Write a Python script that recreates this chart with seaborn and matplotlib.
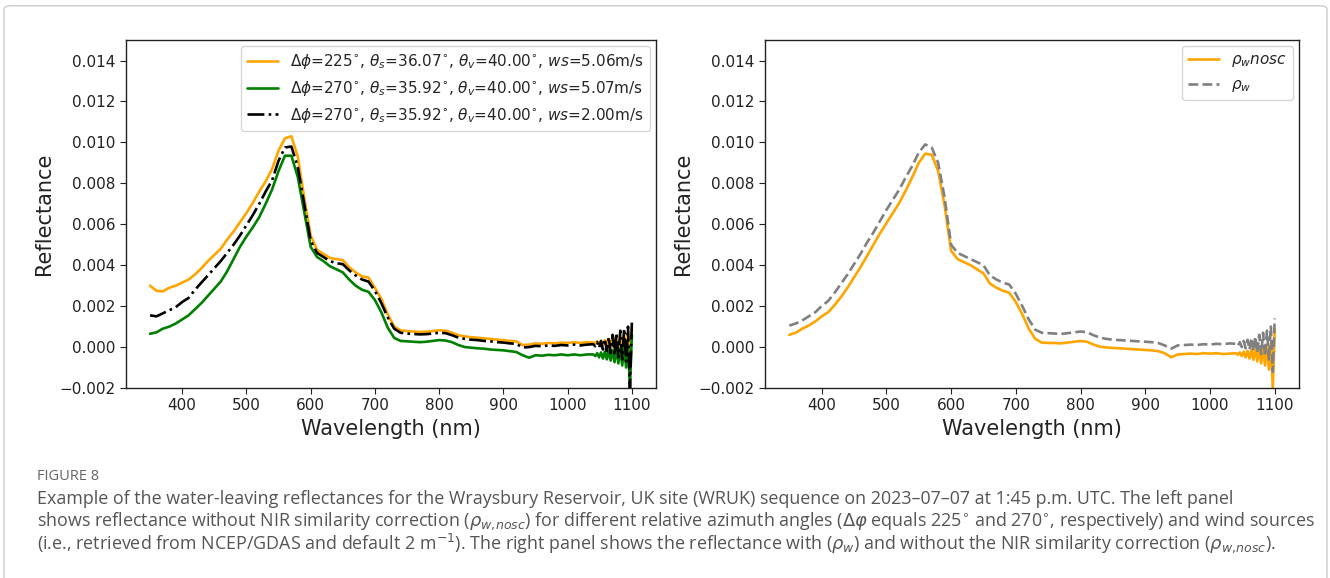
import matplotlib
matplotlib.use("Agg")
import matplotlib.pyplot as plt
import matplotlib.patches as mpatches
import seaborn as sns
import pandas as pd

# Wavelength grid (nm): 10 nm steps, then a finer grid for the noisy NIR tail
wavelength = list(range(350, 1040, 10)) + list(range(1040, 1101, 3))

# Left panel: rho_w,nosc for different azimuths / wind sources
refl_225_ws506 = [
    .00300, .00275, .00272, .00290, .00300, .00315, .00330, .00355, .00385, .00420,
    .00450, .00480, .00525, .00565, .00610, .00655, .00705, .00760, .00810, .00870,
    .00960, .01020, .01030, .00930, .00730, .00545, .00475, .00455, .00435, .00430,
    .00425, .00390, .00365, .00345, .00340, .00290, .00235, .00160, .00100, .00082,
    .00078, .00076, .00074, .00075, .00078, .00082, .00080, .00070, .00058, .00052,
    .00048, .00046, .00042, .00040, .00036, .00034, .00030, .00028, .00010, .00012,
    .00018, .00016, .00020, .00018, .00022, .00020, .00024, .00020, .00024,
    .00022, .00018, .00028, .00014, .00030, .00010, .00034, .00006, .00040, .00000,
    .00044, -.00006, .00050, -.00010, .00056, -.00016, .00060, -.00020, .00070, -.00030,
    .00090]
refl_270_ws507 = [
    .00065, .00072, .00090, .00100, .00115, .00135, .00155, .00185, .00215, .00250,
    .00285, .00320, .00370, .00430, .00490, .00540, .00585, .00635, .00700, .00770,
    .00860, .00935, .00935, .00830, .00660, .00490, .00440, .00420, .00395, .00380,
    .00365, .00330, .00300, .00280, .00270, .00230, .00170, .00095, .00045, .00030,
    .00028, .00026, .00024, .00026, .00030, .00034, .00032, .00024, .00010, .00000,
    -.00003, -.00006, -.00008, -.00012, -.00014, -.00016, -.00020, -.00024, -.00040, -.00052,
    -.00040, -.00042, -.00038, -.00040, -.00036, -.00040, -.00036, -.00040, -.00036,
    -.00036, -.00044, -.00030, -.00050, -.00026, -.00056, -.00022, -.00060, -.00018, -.00066,
    -.00014, -.00074, -.00010, -.00080, -.00006, -.00090, .00000, -.00100, .00010, -.00200,
    .00060]
refl_270_ws200 = [
    .00155, .00150, .00165, .00180, .00195, .00220, .00240, .00280, .00315, .00350,
    .00385, .00420, .00460, .00500, .00545, .00595, .00645, .00700, .00760, .00815,
    .00910, .00975, .00980, .00880, .00700, .00520, .00460, .00440, .00420, .00410,
    .00405, .00375, .00350, .00330, .00320, .00275, .00215, .00145, .00090, .00070,
    .00066, .00064, .00062, .00063, .00066, .00070, .00068, .00058, .00046, .00040,
    .00036, .00034, .00030, .00028, .00024, .00022, .00018, .00016, -.00002, .00000,
    .00006, .00004, .00008, .00006, .00010, .00008, .00012, .00008, .00012,
    .00014, .00004, .00024, -.00004, .00030, -.00012, .00040, -.00020, .00050, -.00030,
    .00060, -.00040, .00070, -.00050, .00080, -.00060, .00090, -.00070, .00100, -.00200,
    .00120]

# Right panel: without (nosc) and with NIR similarity correction
rho_w_nosc = [
    .00060, .00070, .00090, .00105, .00125, .00150, .00170, .00205, .00245, .00290,
    .00340, .00390, .00445, .00500, .00555, .00605, .00655, .00705, .00765, .00830,
    .00900, .00945, .00940, .00860, .00690, .00470, .00430, .00415, .00400, .00380,
    .00360, .00310, .00290, .00275, .00265, .00220, .00160, .00090, .00040, .00022,
    .00020, .00020, .00018, .00022, .00026, .00030, .00026, .00012, .00002, -.00002,
    -.00004, -.00006, -.00008, -.00010, -.00012, -.00014, -.00016, -.00020, -.00030, -.00050,
    -.00036, -.00034, -.00032, -.00034, -.00030, -.00032, -.00030, -.00034, -.00032,
    -.00030, -.00038, -.00026, -.00044, -.00022, -.00050, -.00018, -.00056, -.00014, -.00062,
    -.00010, -.00070, -.00004, -.00080, .00000, -.00090, .00010, -.00110, .00020, -.00200,
    .00090]
rho_w = [
    .00105, .00115, .00130, .00150, .00170, .00200, .00225, .00265, .00310, .00355,
    .00405, .00455, .00510, .00560, .00615, .00670, .00720, .00770, .00830, .00885,
    .00950, .00990, .00975, .00900, .00730, .00500, .00460, .00445, .00430, .00415,
    .00400, .00350, .00330, .00315, .00305, .00260, .00200, .00135, .00085, .00070,
    .00068, .00066, .00064, .00068, .00072, .00076, .00072, .00058, .00046, .00040,
    .00036, .00034, .00032, .00030, .00028, .00026, .00024, .00020, .00008, -.00008,
    .00008, .00010, .00012, .00010, .00014, .00012, .00016, .00014, .00018,
    .00016, .00006, .00024, .00000, .00030, -.00006, .00036, -.00012, .00044, -.00020,
    .00052, -.00026, .00060, -.00034, .00070, -.00044, .00080, -.00060, .00100, -.00120,
    .00140]

left_labels = [
    r'$\Delta\phi$=225$^{\circ}$, $\theta_s$=36.07$^{\circ}$, $\theta_v$=40.00$^{\circ}$, $ws$=5.06m/s',
    r'$\Delta\phi$=270$^{\circ}$, $\theta_s$=35.92$^{\circ}$, $\theta_v$=40.00$^{\circ}$, $ws$=5.07m/s',
    r'$\Delta\phi$=270$^{\circ}$, $\theta_s$=35.92$^{\circ}$, $\theta_v$=40.00$^{\circ}$, $ws$=2.00m/s',
]
right_labels = [r'$\rho_w nosc$', r'$\rho_w$']

caption_head = 'FIGURE 8'
caption_lines = [
    'Example of the water-leaving reflectances for the Wraysbury Reservoir, UK site (WRUK) sequence on 2023\u201307\u201307 at 1:45 p.m. UTC. The left panel',
    r'shows reflectance without NIR similarity correction ($\rho_{w,\!nosc}$) for different relative azimuth angles ($\Delta\varphi$ equals 225$^{\circ}$ and 270$^{\circ}$, respectively) and wind sources',
    r'(i.e., retrieved from NCEP/GDAS and default 2 m$^{-1}$). The right panel shows the reflectance with ($\rho_w$) and without the NIR similarity correction ($\rho_{w,\!nosc}$).',
]

sns.set_style("ticks")
plt.rcParams['font.family'] = ['DejaVu Sans']
plt.rcParams['mathtext.fontset'] = 'dejavusans'

fig = plt.figure(figsize=(13.3, 5.78), dpi=100)
ax1 = fig.add_axes([0.0947, 0.3287, 0.3985, 0.602])
ax2 = fig.add_axes([0.5752, 0.3287, 0.4015, 0.602])

df = pd.DataFrame({'wl': wavelength, 'a': refl_225_ws506, 'b': refl_270_ws507,
                   'c': refl_270_ws200, 'nosc': rho_w_nosc, 'rw': rho_w})

lw = 1.9
sns.lineplot(data=df, x='wl', y='a', ax=ax1, color='orange', lw=lw, label=left_labels[0])
sns.lineplot(data=df, x='wl', y='b', ax=ax1, color='green', lw=lw, label=left_labels[1])
sns.lineplot(data=df, x='wl', y='c', ax=ax1, color='black', lw=lw, ls='-.', label=left_labels[2])

sns.lineplot(data=df, x='wl', y='nosc', ax=ax2, color='orange', lw=lw, label=right_labels[0])
sns.lineplot(data=df, x='wl', y='rw', ax=ax2, color='gray', lw=lw, ls='--', label=right_labels[1])

yt = [-0.002, 0, 0.002, 0.004, 0.006, 0.008, 0.010, 0.012, 0.014]
for ax in (ax1, ax2):
    ax.set_xlim(312.5, 1137.5)
    ax.set_ylim(-0.002, 0.015)
    ax.set_yticks(yt)
    ax.set_xticks([400, 500, 600, 700, 800, 900, 1000, 1100])
    ax.set_yticklabels(['\u22120.002'] + ['%.3f' % v for v in yt[1:]])
    ax.tick_params(labelsize=11, length=4, color='#222222', labelcolor='#222222')
    ax.set_xlabel('Wavelength (nm)', fontsize=15, color='#222222')
    ax.set_ylabel('Reflectance', fontsize=15, color='#222222')
    for s in ax.spines.values():
        s.set_color('#222222')
        s.set_linewidth(1.0)

ax1.legend(loc='upper right', fontsize=11, frameon=True, framealpha=0.8,
           edgecolor='#cccccc', borderaxespad=0.4)
ax2.legend(loc='upper right', fontsize=11, frameon=True, framealpha=0.8,
           edgecolor='#cccccc', borderaxespad=0.4)

# Caption and outer frame of the figure panel
fig.patches.append(mpatches.FancyBboxPatch(
    (4 / 1330, -0.05), 1323 / 1330, 1.04, boxstyle='round,pad=0,rounding_size=0.006',
    transform=fig.transFigure, facecolor='none', edgecolor='#cccccc', lw=1.0))

fig.text(37 / 1330, 1 - 477 / 578, caption_head, fontsize=10.5, color='#666666',
         family=['Open Sans', 'DejaVu Sans'], va='center')
for i, line in enumerate(caption_lines):
    fig.text(37 / 1330, 1 - (499 + 22 * i) / 578, line, fontsize=12.9, color='#555555',
             family=['Open Sans', 'DejaVu Sans'], va='center')

fig.savefig('out.png', dpi=100)
